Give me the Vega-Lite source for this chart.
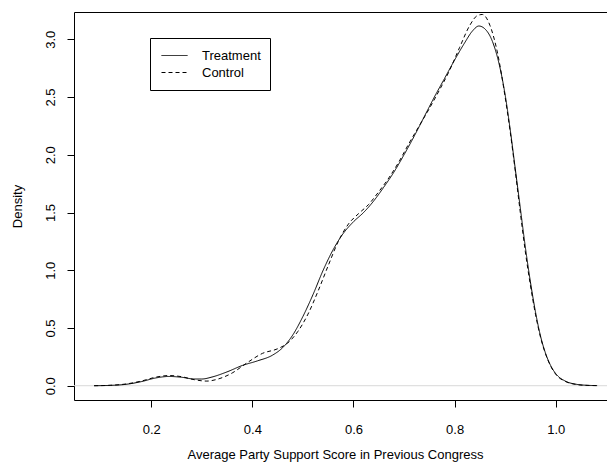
{
  "$schema": "https://vega.github.io/schema/vega-lite/v6.json",
  "autosize": "none",
  "padding": {"left": 74, "top": 12, "right": 0, "bottom": 67},
  "width": 534,
  "height": 388,
  "background": "white",
  "config": {
    "font": "Liberation Sans",
    "view": {"stroke": "black", "strokeWidth": 1},
    "axis": {
      "grid": false,
      "domain": false,
      "tickColor": "black",
      "tickSize": 7,
      "labelFontSize": 13,
      "labelColor": "black",
      "titleFontSize": 13,
      "titleFontWeight": "normal",
      "titleColor": "black",
      "labelFont": "Liberation Sans",
      "titleFont": "Liberation Sans"
    },
    "legend": {
      "orient": "none",
      "legendX": 76,
      "legendY": 26,
      "strokeColor": "black",
      "padding": 9,
      "labelFontSize": 13,
      "labelColor": "black",
      "labelFont": "Liberation Sans",
      "symbolType": "stroke",
      "symbolSize": 676,
      "symbolStrokeWidth": 1,
      "symbolStrokeColor": "black",
      "symbolOffset": 2,
      "labelOffset": 14,
      "rowPadding": 0,
      "clipHeight": 17,
      "title": null
    }
  },
  "datasets": {
    "curves": [
      {"x": 0.087, "y": 0.000, "group": "Treatment"},
      {"x": 0.12, "y": 0.003, "group": "Treatment"},
      {"x": 0.15, "y": 0.012, "group": "Treatment"},
      {"x": 0.18, "y": 0.035, "group": "Treatment"},
      {"x": 0.21, "y": 0.068, "group": "Treatment"},
      {"x": 0.235, "y": 0.080, "group": "Treatment"},
      {"x": 0.26, "y": 0.073, "group": "Treatment"},
      {"x": 0.285, "y": 0.058, "group": "Treatment"},
      {"x": 0.30, "y": 0.058, "group": "Treatment"},
      {"x": 0.32, "y": 0.075, "group": "Treatment"},
      {"x": 0.35, "y": 0.120, "group": "Treatment"},
      {"x": 0.38, "y": 0.175, "group": "Treatment"},
      {"x": 0.41, "y": 0.215, "group": "Treatment"},
      {"x": 0.44, "y": 0.265, "group": "Treatment"},
      {"x": 0.46, "y": 0.330, "group": "Treatment"},
      {"x": 0.48, "y": 0.440, "group": "Treatment"},
      {"x": 0.50, "y": 0.600, "group": "Treatment"},
      {"x": 0.52, "y": 0.790, "group": "Treatment"},
      {"x": 0.54, "y": 1.000, "group": "Treatment"},
      {"x": 0.56, "y": 1.180, "group": "Treatment"},
      {"x": 0.58, "y": 1.320, "group": "Treatment"},
      {"x": 0.60, "y": 1.420, "group": "Treatment"},
      {"x": 0.62, "y": 1.500, "group": "Treatment"},
      {"x": 0.64, "y": 1.600, "group": "Treatment"},
      {"x": 0.66, "y": 1.720, "group": "Treatment"},
      {"x": 0.68, "y": 1.850, "group": "Treatment"},
      {"x": 0.70, "y": 2.000, "group": "Treatment"},
      {"x": 0.72, "y": 2.160, "group": "Treatment"},
      {"x": 0.74, "y": 2.330, "group": "Treatment"},
      {"x": 0.76, "y": 2.500, "group": "Treatment"},
      {"x": 0.78, "y": 2.660, "group": "Treatment"},
      {"x": 0.80, "y": 2.820, "group": "Treatment"},
      {"x": 0.82, "y": 2.970, "group": "Treatment"},
      {"x": 0.835, "y": 3.070, "group": "Treatment"},
      {"x": 0.848, "y": 3.115, "group": "Treatment"},
      {"x": 0.86, "y": 3.090, "group": "Treatment"},
      {"x": 0.875, "y": 2.980, "group": "Treatment"},
      {"x": 0.89, "y": 2.750, "group": "Treatment"},
      {"x": 0.90, "y": 2.520, "group": "Treatment"},
      {"x": 0.91, "y": 2.220, "group": "Treatment"},
      {"x": 0.92, "y": 1.880, "group": "Treatment"},
      {"x": 0.93, "y": 1.540, "group": "Treatment"},
      {"x": 0.94, "y": 1.200, "group": "Treatment"},
      {"x": 0.95, "y": 0.900, "group": "Treatment"},
      {"x": 0.96, "y": 0.640, "group": "Treatment"},
      {"x": 0.97, "y": 0.430, "group": "Treatment"},
      {"x": 0.98, "y": 0.280, "group": "Treatment"},
      {"x": 0.99, "y": 0.175, "group": "Treatment"},
      {"x": 1.00, "y": 0.105, "group": "Treatment"},
      {"x": 1.02, "y": 0.038, "group": "Treatment"},
      {"x": 1.04, "y": 0.013, "group": "Treatment"},
      {"x": 1.06, "y": 0.004, "group": "Treatment"},
      {"x": 1.082, "y": 0.001, "group": "Treatment"},
      {"x": 0.087, "y": 0.000, "group": "Control"},
      {"x": 0.12, "y": 0.004, "group": "Control"},
      {"x": 0.15, "y": 0.015, "group": "Control"},
      {"x": 0.18, "y": 0.040, "group": "Control"},
      {"x": 0.21, "y": 0.075, "group": "Control"},
      {"x": 0.235, "y": 0.088, "group": "Control"},
      {"x": 0.26, "y": 0.078, "group": "Control"},
      {"x": 0.285, "y": 0.052, "group": "Control"},
      {"x": 0.31, "y": 0.040, "group": "Control"},
      {"x": 0.33, "y": 0.055, "group": "Control"},
      {"x": 0.36, "y": 0.110, "group": "Control"},
      {"x": 0.39, "y": 0.200, "group": "Control"},
      {"x": 0.42, "y": 0.280, "group": "Control"},
      {"x": 0.45, "y": 0.320, "group": "Control"},
      {"x": 0.47, "y": 0.370, "group": "Control"},
      {"x": 0.49, "y": 0.470, "group": "Control"},
      {"x": 0.51, "y": 0.620, "group": "Control"},
      {"x": 0.53, "y": 0.820, "group": "Control"},
      {"x": 0.55, "y": 1.040, "group": "Control"},
      {"x": 0.57, "y": 1.250, "group": "Control"},
      {"x": 0.59, "y": 1.400, "group": "Control"},
      {"x": 0.61, "y": 1.490, "group": "Control"},
      {"x": 0.63, "y": 1.570, "group": "Control"},
      {"x": 0.65, "y": 1.680, "group": "Control"},
      {"x": 0.67, "y": 1.800, "group": "Control"},
      {"x": 0.69, "y": 1.940, "group": "Control"},
      {"x": 0.71, "y": 2.100, "group": "Control"},
      {"x": 0.73, "y": 2.250, "group": "Control"},
      {"x": 0.75, "y": 2.400, "group": "Control"},
      {"x": 0.77, "y": 2.560, "group": "Control"},
      {"x": 0.79, "y": 2.730, "group": "Control"},
      {"x": 0.81, "y": 2.930, "group": "Control"},
      {"x": 0.83, "y": 3.120, "group": "Control"},
      {"x": 0.845, "y": 3.205, "group": "Control"},
      {"x": 0.855, "y": 3.215, "group": "Control"},
      {"x": 0.87, "y": 3.120, "group": "Control"},
      {"x": 0.885, "y": 2.880, "group": "Control"},
      {"x": 0.90, "y": 2.500, "group": "Control"},
      {"x": 0.91, "y": 2.200, "group": "Control"},
      {"x": 0.92, "y": 1.860, "group": "Control"},
      {"x": 0.93, "y": 1.500, "group": "Control"},
      {"x": 0.94, "y": 1.160, "group": "Control"},
      {"x": 0.95, "y": 0.870, "group": "Control"},
      {"x": 0.96, "y": 0.620, "group": "Control"},
      {"x": 0.97, "y": 0.420, "group": "Control"},
      {"x": 0.98, "y": 0.275, "group": "Control"},
      {"x": 0.99, "y": 0.170, "group": "Control"},
      {"x": 1.00, "y": 0.100, "group": "Control"},
      {"x": 1.02, "y": 0.035, "group": "Control"},
      {"x": 1.04, "y": 0.011, "group": "Control"},
      {"x": 1.06, "y": 0.003, "group": "Control"},
      {"x": 1.082, "y": 0.001, "group": "Control"}
    ],
    "zero": [{"y": 0}]
  },
  "layer": [
    {
      "data": {"name": "zero"},
      "mark": {"type": "rule", "color": "#d8d8d8", "strokeWidth": 1},
      "encoding": {
        "y": {"field": "y", "type": "quantitative", "scale": {"domain": [-0.1238, 3.2364], "nice": false, "zero": false}}
      }
    },
    {
      "data": {"name": "curves"},
      "mark": {"type": "line", "color": "black", "strokeWidth": 1, "interpolate": "monotone", "clip": true},
      "encoding": {
        "x": {
          "field": "x", "type": "quantitative",
          "scale": {"domain": [0.0471, 1.1035], "nice": false, "zero": false},
          "axis": {
            "values": [0.2, 0.4, 0.6, 0.8, 1.0],
            "format": ".1f",
            "labelPadding": 16,
            "title": "Average Party Support Score in Previous Congress",
            "titleX": 261,
            "titleY": 54,
            "titleBaseline": "middle"
          }
        },
        "y": {
          "field": "y", "type": "quantitative",
          "scale": {"domain": [-0.1238, 3.2364], "nice": false, "zero": false},
          "axis": {
            "values": [0, 0.5, 1, 1.5, 2, 2.5, 3],
            "format": ".1f",
            "labelAngle": 270,
            "labelPadding": 10,
            "title": "Density",
            "titleX": -57,
            "titleBaseline": "middle"
          }
        },
        "strokeDash": {
          "field": "group", "type": "nominal",
          "scale": {"domain": ["Treatment", "Control"], "range": [[1, 0], [4, 3]]},
          "legend": {"title": null}
        },
        "detail": {"field": "group"}
      }
    }
  ]
}
